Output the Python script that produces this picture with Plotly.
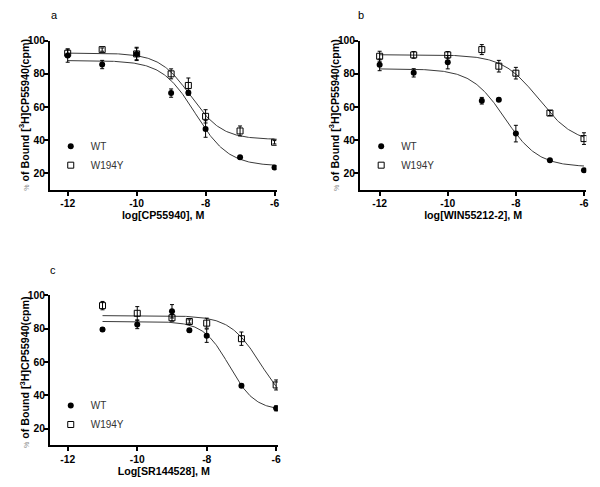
import numpy as np
import plotly.graph_objects as go

# ---------------- data ----------------
log_conc_ab = [-12, -11, -10, -9, -8.5, -8, -7, -6]
log_conc_c = [-11, -10, -9, -8.5, -8, -7, -6]

# panel a : CP55940
a_wt = [91.0, 85.6, 92.0, 68.4, 68.6, 46.8, 29.8, 23.6]
a_wt_err = [4.0, 2.5, 3.5, 2.5, 1.5, 5.0, 1.0, 1.0]
a_mut = [92.4, 94.6, 92.0, 80.0, 73.0, 54.4, 45.6, 38.8]
a_mut_err = [2.5, 1.0, 4.0, 3.0, 4.5, 4.0, 3.0, 1.0]

# panel b : WIN55212-2
b_wt = [85.4, 80.6, 87.0, 63.8, 64.4, 44.0, 28.0, 22.0]
b_wt_err = [3.5, 2.5, 4.0, 2.0, 1.0, 5.0, 1.0, 1.0]
b_mut = [90.6, 91.4, 91.4, 94.6, 84.6, 80.4, 56.4, 41.0]
b_mut_err = [3.0, 2.0, 2.0, 3.0, 3.5, 3.5, 1.5, 3.5]

# panel c : SR144528
c_wt = [79.4, 82.4, 90.3, 78.9, 75.7, 45.8, 32.2]
c_wt_err = [1.0, 2.5, 4.0, 1.0, 4.0, 1.0, 1.5]
c_mut = [93.7, 89.1, 86.4, 84.2, 83.2, 73.9, 46.2]
c_mut_err = [2.5, 4.0, 2.0, 1.0, 3.0, 4.0, 3.0]

# fitted one-site competition curves: top, bottom, logIC50, hill
fit_a_wt = [88.0, 24.5, -8.3, 0.9]
fit_a_mut = [92.5, 40.5, -8.43, 0.96]
fit_b_wt = [83.0, 24.0, -8.33, 0.88]
fit_b_mut = [91.5, 38.0, -7.33, 0.83]
fit_c_wt = [84.2, 31.0, -7.35, 1.18]
fit_c_mut = [87.7, 30.0, -6.45, 0.98]

x_tickvals = [-12, -10, -8, -6]
x_ticktext = ["-12", "-10", "-8", "-6"]
y_tickvals = [20, 40, 60, 80, 100]
y_ticktext = ["20", "40", "60", "80", "100"]

panel_letters = ["a", "b", "c"]
x_titles = ["log[CP55940], M", "log[WIN55212-2], M", "Log[SR144528], M"]
series_names = ["WT", "W194Y"]


def curve(params, x0, x1):
    top, bottom, ic, h = params
    xs = np.linspace(x0, x1, 200)
    ys = bottom + (top - bottom) / (1 + 10 ** (h * (xs - ic)))
    return xs, ys


FONT = "Arial, Liberation Sans, sans-serif"
fig = go.Figure()

panels = [
    (log_conc_ab, a_wt, a_wt_err, a_mut, a_mut_err, fit_a_wt, fit_a_mut, -12, "x", "y", "legend"),
    (log_conc_ab, b_wt, b_wt_err, b_mut, b_mut_err, fit_b_wt, fit_b_mut, -12, "x2", "y2", "legend2"),
    (log_conc_c, c_wt, c_wt_err, c_mut, c_mut_err, fit_c_wt, fit_c_mut, -11, "x3", "y3", "legend3"),
]

for xs, wt, wte, mu, mue, fwt, fmu, x0, xa, ya, lg in panels:
    for p in (fwt, fmu):
        cx, cy = curve(p, x0, -6)
        fig.add_trace(go.Scatter(x=cx, y=cy, mode="lines", xaxis=xa, yaxis=ya,
                                 line=dict(color="#3a3a3a", width=1),
                                 showlegend=False, hoverinfo="skip"))
    fig.add_trace(go.Scatter(x=xs, y=wt, mode="markers", name=series_names[0],
                             xaxis=xa, yaxis=ya, legend=lg,
                             marker=dict(symbol="circle", size=6, color="black"),
                             error_y=dict(type="data", array=wte, color="black",
                                          thickness=1, width=2)))
    fig.add_trace(go.Scatter(x=xs, y=mu, mode="markers", name=series_names[1],
                             xaxis=xa, yaxis=ya, legend=lg,
                             marker=dict(symbol="square-open", size=6, color="black",
                                         line=dict(width=1)),
                             error_y=dict(type="data", array=mue, color="black",
                                          thickness=1, width=2)))

W, H = 600, 487


def px_x(v):
    return v / W


def px_y(v):
    return 1 - v / H


axis_common = dict(showline=True, linecolor="black", linewidth=1.5, ticks="outside",
                   ticklen=4, tickwidth=1.5, tickcolor="black", showgrid=False,
                   zeroline=False, mirror=False,
                   tickfont=dict(family=FONT, size=10.3, color="black", weight="bold"))

title_font = dict(family=FONT, size=10.7, color="black", weight="bold")

layout_axes = {}
geo = [
    # xdomain px, ydomain px (top,bottom), xrange
    ((50, 278), (36, 187), [-12.52, -5.94]),
    ((361.7, 589.3), (36, 187), [-12.58, -5.93]),
    ((50, 279.3), (293.1, 445), [-12.52, -5.95]),
]
for i, ((xl, xr), (yt, yb), xr_) in enumerate(geo):
    sx = "" if i == 0 else str(i + 1)
    layout_axes["xaxis" + sx] = dict(
        axis_common, domain=[px_x(xl), px_x(xr)], range=xr_,
        tickmode="array", tickvals=x_tickvals, ticktext=x_ticktext,
        anchor="y" + sx, ticklabelstandoff=-1,
        title=dict(text=x_titles[i], font=title_font, standoff=2))
    layout_axes["yaxis" + sx] = dict(
        axis_common, domain=[px_y(yb), px_y(yt)], range=[10, 100],
        tickmode="array", tickvals=y_tickvals, ticktext=y_ticktext,
        anchor="x" + sx, ticklabelstandoff=-3)

fig.update_layout(**layout_axes)

ytitle = ("<span style='font-size:7px;color:#8a8a8a;font-weight:normal'>%</span>"
          " of Bound [<sup>3</sup>H]CP55940(cpm)")
annos = []
ycenters = [111, 111, 371]
yaxis_x = [50, 361.7, 50]
for i in range(3):
    annos.append(dict(text=ytitle, textangle=-90, xref="paper", yref="paper",
                      x=px_x(yaxis_x[i] - 26), y=px_y(ycenters[i]), showarrow=False,
                      xanchor="center", yanchor="middle", font=title_font))
letter_pos = [(55, 10), (363, 10), (53, 268)]
for i, (lx, ly) in enumerate(letter_pos):
    annos.append(dict(text=panel_letters[i], xref="paper", yref="paper",
                      x=px_x(lx), y=px_y(ly), showarrow=False, xanchor="center",
                      yanchor="middle", font=dict(family=FONT, size=11, color="black")))

legend_common = dict(font=dict(family=FONT, size=10, color="#333333"),
                     bgcolor="rgba(0,0,0,0)", xanchor="left", yanchor="top",
                     tracegroupgap=0)
fig.update_layout(
    annotations=annos,
    legend=dict(legend_common, x=px_x(51), y=px_y(128)),
    legend2=dict(legend_common, x=px_x(363), y=px_y(128)),
    legend3=dict(legend_common, x=px_x(51), y=px_y(390)),
    width=W, height=H, margin=dict(l=0, r=0, t=0, b=0),
    paper_bgcolor="white", plot_bgcolor="white", showlegend=True,
)

fig.write_html("out.html", config={"displayModeBar": False},
               post_script="document.body.style.margin='0';"
                           "document.body.style.overflow='hidden';")
